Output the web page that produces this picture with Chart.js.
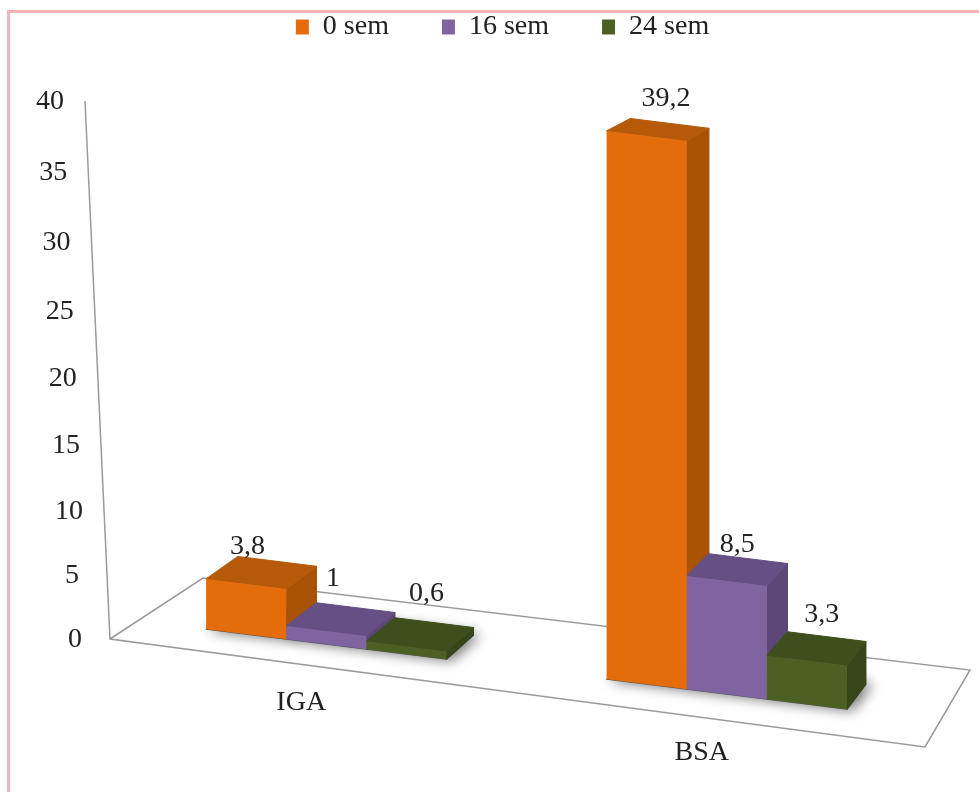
<!DOCTYPE html>
<html>
<head>
<meta charset="utf-8">
<title>IGA / BSA</title>
<script src="https://cdn.jsdelivr.net/npm/chart.js@4"></script>
<style>
	html, body { margin: 0; padding: 0; background: #fff; }
	#wrap { position: relative; width: 979px; height: 792px; overflow: hidden; }
	#frame { position: absolute; left: 7px; top: 10px; right: -5px; bottom: -5px; border: 3px solid #f5b5b5; pointer-events: none; }
</style>
</head>
<body>
<div id="wrap">
	<canvas id="chart" width="979" height="792"></canvas>
	<div id="frame"></div>
</div>
<script>
const categories = ['IGA', 'BSA'];
const seriesNames = ['0 sem', '16 sem', '24 sem'];
const week0Values = [3.8, 39.2];
const week16Values = [1, 8.5];
const week24Values = [0.6, 3.3];

const FrontColors = ['#e46c0a', '#8064a2', '#4c6024'];
const TopColors = ['#b65a0a', '#664f84', '#3e4f1d'];
const SideColors = ['#a85206', '#5c4776', '#36461a'];
const Serif = '"Liberation Serif", "Times New Roman", serif';
const FontSize = 28;
const TextColor = '#222';
const Shear = 0.125; // the floor runs downhill to the right
const ShearOrigin = 284;
// Hand placement of the value labels, series by series
const LabelNudges = [[[-11, 9], [10, -2]], [[-5, -5], [2, 9]], [[9, -5], [7, 1]]];

// Linear scale with the slight foreshortening of the 3D view
class WarpedScale extends Chart.LinearScale {
	getPixelForValue(value) {
		const t = (value - this.min) / (this.max - this.min);
		const c = 0.943;
		return this.bottom - (t * c / (1 + (c - 1) * t)) * (this.bottom - this.top);
	}
}
WarpedScale.id = 'warped';
WarpedScale.defaults = Chart.LinearScale.defaults;
Chart.register(WarpedScale);

const sheared = (x, y) => y + Shear * (x - ShearOrigin);
const depthX = x => 36 - 0.02 * x;
const depthY = height => 27.5 - 0.022 * height;

const fillFace = (ctx, points, color) => {
	ctx.beginPath();
	points.forEach(([x, y], i) => i ? ctx.lineTo(x, y) : ctx.moveTo(x, y));
	ctx.closePath();
	ctx.fillStyle = color;
	ctx.strokeStyle = color;
	ctx.lineWidth = 1;
	ctx.lineJoin = 'round';
	ctx.fill();
	ctx.stroke();
};

const drawFloorAndAxes = chart => {
	const { ctx, chartArea: { left, right, top, bottom }, scales: { x, y } } = chart;
	ctx.save();
	ctx.strokeStyle = '#9a9a9a';
	ctx.lineWidth = 1.5;
	ctx.beginPath();
	ctx.moveTo(left - 41, top);
	ctx.lineTo(left - 16, bottom);
	ctx.lineTo(right - 2, bottom + 108);
	ctx.lineTo(right + 43, bottom + 31);
	ctx.lineTo(left + 77, bottom - 61);
	ctx.lineTo(left - 16, bottom);
	ctx.stroke();

	ctx.font = `${FontSize}px ${Serif}`;
	ctx.fillStyle = TextColor;
	ctx.textAlign = 'center';
	ctx.textBaseline = 'middle';
	y.ticks.forEach(tick => {
		const py = y.getPixelForValue(tick.value);
		const axisX = left - 16 - 25 * (bottom - py) / (bottom - top);
		ctx.fillText(String(tick.value), axisX - 35, py + 1);
	});
	categories.forEach((label, i) => {
		const px = x.getPixelForValue(i);
		ctx.fillText(label, px - 25, sheared(px, bottom) + 58);
	});
	ctx.restore();
};

const eachBar = (chart, callback) => {
	chart.data.datasets.forEach((dataset, di) => {
		chart.getDatasetMeta(di).data.forEach((bar, i) => callback(bar, di, dataset.data[i], i));
	});
};

const drawBarSides = chart => {
	const { ctx } = chart;
	eachBar(chart, bar => {
		const x1 = bar.x - bar.width / 2, x2 = bar.x + bar.width / 2;
		const dx1 = depthX(x1), dx2 = depthX(x2), baseDepth = depthY(0);
		ctx.save();
		ctx.shadowColor = 'rgba(0, 0, 0, 0.6)';
		ctx.shadowBlur = 14;
		ctx.shadowOffsetX = 5;
		fillFace(ctx, [[x1, bar.base], [x2, bar.base], [x2 + dx2, bar.base - baseDepth], [x1 + dx1, bar.base - baseDepth]], '#555');
		ctx.restore();
	});
	eachBar(chart, (bar, di) => {
		const x1 = bar.x - bar.width / 2, x2 = bar.x + bar.width / 2;
		const dx1 = depthX(x1), dx2 = depthX(x2);
		const topDepth = depthY(bar.base - bar.y), baseDepth = depthY(0);
		fillFace(ctx, [[x2, bar.y], [x2 + dx2, bar.y - topDepth], [x2 + dx2, bar.base - baseDepth], [x2, bar.base]], SideColors[di]);
		fillFace(ctx, [[x1, bar.y], [x1 + dx1, bar.y - topDepth], [x2 + dx2, bar.y - topDepth], [x2, bar.y]], TopColors[di]);
	});
};

const drawValueLabels = chart => {
	const { ctx } = chart;
	ctx.save();
	ctx.font = `${FontSize}px ${Serif}`;
	ctx.fillStyle = TextColor;
	ctx.textAlign = 'center';
	ctx.textBaseline = 'middle';
	eachBar(chart, (bar, di, value, i) => {
		const top = sheared(bar.x, bar.y) - depthY(bar.base - bar.y);
		const [nudgeX, nudgeY] = LabelNudges[di][i];
		ctx.fillText(String(value).replace('.', ','), bar.x + depthX(bar.x) * 0.4 + nudgeX, top - 20 + nudgeY);
	});
	ctx.restore();
};

const bars3dPlugin = {
	id: 'bars3d',
	beforeDatasetsDraw(chart) {
		drawFloorAndAxes(chart);
		chart.ctx.save();
		chart.ctx.transform(1, Shear, 0, 1, 0, -Shear * ShearOrigin);
		drawBarSides(chart);
	},
	afterDatasetsDraw(chart) {
		chart.ctx.restore();
		drawValueLabels(chart);
	}
};

const seriesValues = [week0Values, week16Values, week24Values];

new Chart(document.getElementById('chart'), {
	type: 'bar',
	data: {
		labels: categories,
		datasets: seriesNames.map((label, i) => ({
			label: label,
			data: seriesValues[i],
			backgroundColor: FrontColors[i],
			borderWidth: 0,
			yAxisID: 'yBars',
			categoryPercentage: 0.6,
			barPercentage: 1,
			clip: false
		}))
	},
	options: {
		responsive: false,
		animation: false,
		layout: { padding: { left: 78, right: 52, top: -40, bottom: 145 } },
		scales: {
			x: { ticks: { display: false }, grid: { display: false }, border: { display: false } },
			// empty band between the legend and the plot
			spacer: {
				type: 'linear',
				position: 'top',
				ticks: { display: false },
				grid: { display: false },
				border: { display: false },
				afterFit: scale => { scale.height = 50; }
			},
			y: {
				type: 'warped',
				min: 0,
				max: 40,
				ticks: { display: false, stepSize: 5 },
				grid: { display: false },
				border: { display: false },
				afterFit: scale => { scale.width = 48; }
			},
			yBars: { type: 'warped', display: false, min: 0, max: 38.5 }
		},
		plugins: {
			tooltip: { enabled: false },
			legend: {
				position: 'top',
				labels: {
					boxWidth: 13,
					boxHeight: 15,
					padding: 53,
					color: TextColor,
					font: { family: Serif, size: FontSize }
				}
			}
		}
	},
	plugins: [bars3dPlugin]
});
</script>
</body>
</html>
